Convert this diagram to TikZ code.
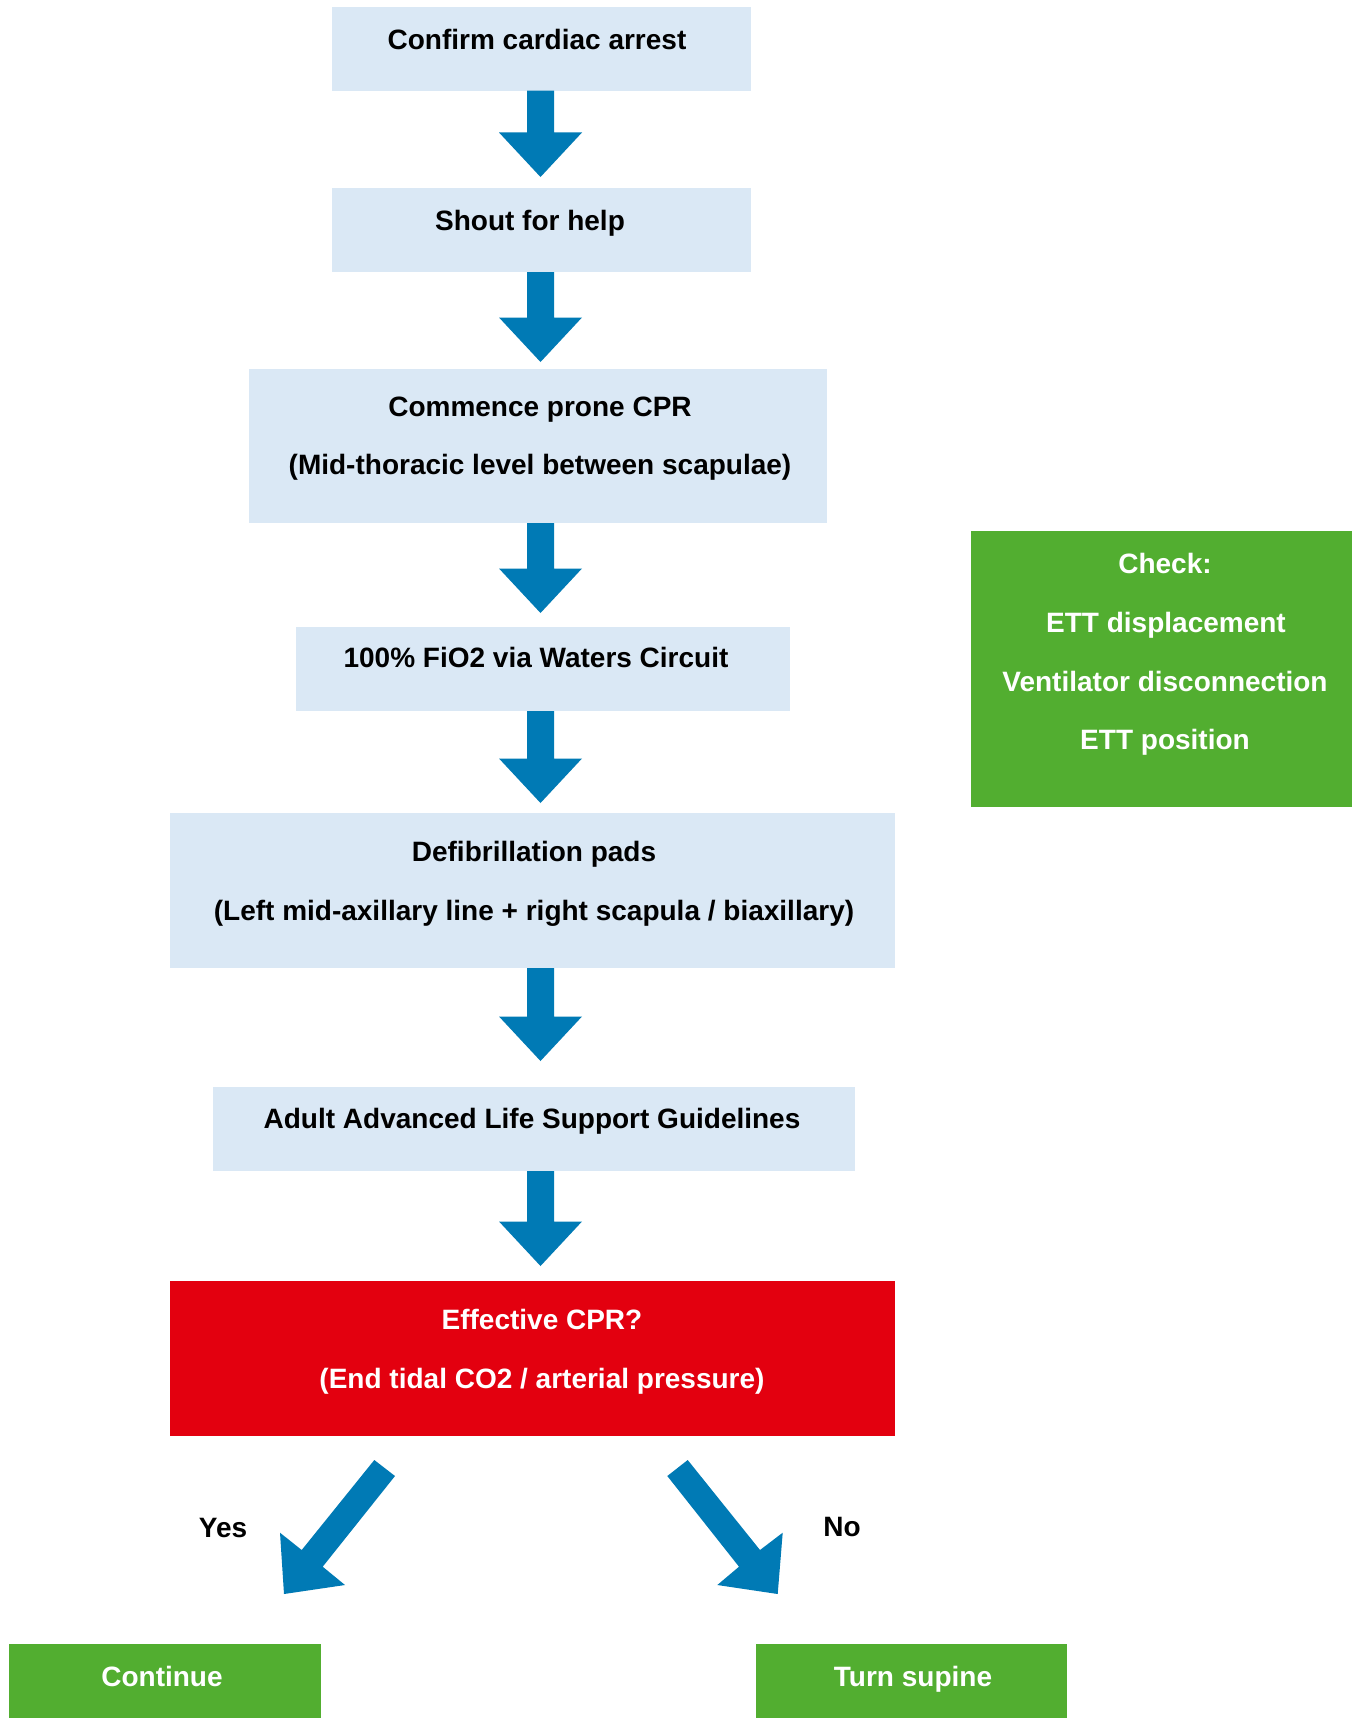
\documentclass[tikz,border=0pt]{standalone}
\usepackage{fontspec}
\setmainfont{Liberation Sans}
\usetikzlibrary{calc}
\definecolor{boxblue}{HTML}{DAE8F5}
\definecolor{arrblue}{HTML}{007AB5}
\definecolor{cprred}{HTML}{E3000F}
\definecolor{grn}{HTML}{52AE30}
\newcommand\blockdown[2]{%
  \fill[arrblue] ($(ax |- #1.south)+(-13.5,0)$) -- ($(ax |- #1.south)+(13.5,0)$)
    -- (554,{#2-44.5}) -- (582,{#2-44.5}) -- (540.5,#2) -- (499,{#2-44.5}) -- (527,{#2-44.5}) -- cycle;}
\begin{document}
\begin{tikzpicture}[x=1pt,y=-1pt,
  box/.style={anchor=north west, inner sep=0pt, outer sep=0pt, draw=none},
  bluebox/.style={box, fill=boxblue},
  redbox/.style={box, fill=cprred},
  greenbox/.style={box, fill=grn},
  txt/.style={anchor=base, inner sep=0pt, font=\fontsize{28}{33}\selectfont\bfseries, text=black},
  wtxt/.style={txt, text=white}]
\useasboundingbox (0,0) rectangle (1359,1718);
\fill[white] (0,0) rectangle (1359,1718);
\coordinate (ax) at (540.5,0);

% blue boxes
\node[bluebox, minimum width=419pt, minimum height=83.7pt] (b1) at (332,7) {};
\node[txt] (t1) at (537,50) {Confirm cardiac arrest};

\node[bluebox, minimum width=419pt, minimum height=84pt] (b2) at (332,188) {};
\node[txt] (t2) at (530,230) {Shout for help};

\node[bluebox, minimum width=578pt, minimum height=154pt] (b3) at (249,369) {};
\node[txt] (t3a) at (540,416) {Commence prone CPR};
\node[txt] (t3b) at (540,474) {(Mid-thoracic level between scapulae)};

\node[bluebox, minimum width=494pt, minimum height=84pt] (b4) at (296,627) {};
\node[txt] (t4) at (536,667) {100\% FiO2 via Waters Circuit};

\node[bluebox, minimum width=725pt, minimum height=155pt] (b5) at (170,813) {};
\node[txt] (t5a) at (534,861) {Defibrillation pads};
\node[txt] (t5b) at (534,920) {(Left mid-axillary line + right scapula / biaxillary)};

\node[bluebox, minimum width=642pt, minimum height=84pt] (b6) at (213,1087) {};
\node[txt] (t6) at (532,1128) {Adult Advanced Life Support Guidelines};

% red decision box
\node[redbox, minimum width=725pt, minimum height=155pt] (r) at (170,1281) {};
\node[wtxt] (tra) at (542,1329) {Effective CPR?};
\node[wtxt] (trb) at (542,1388) {(End tidal CO2 / arterial pressure)};

% green check box
\node[greenbox, minimum width=381pt, minimum height=276pt] (g) at (971,531) {};
\node[wtxt] (tga) at (1165,573) {Check:};
\node[wtxt] (tgb) at (1166,632) {ETT displacement};
\node[wtxt] (tgc) at (1165,691) {Ventilator disconnection};
\node[wtxt] (tgd) at (1165,749) {ETT position};

% outcome boxes
\node[greenbox, minimum width=312pt, minimum height=74pt] (c) at (9,1644) {};
\node[wtxt] (tc) at (162,1686) {Continue};
\node[greenbox, minimum width=311pt, minimum height=74pt] (s) at (756,1644) {};
\node[wtxt] (ts) at (913,1686) {Turn supine};

% vertical block arrows
\blockdown{b1}{177}
\blockdown{b2}{362}
\blockdown{b3}{613}
\blockdown{b4}{803}
\blockdown{b5}{1061}
\blockdown{b6}{1266}

% diagonal block arrows
\fill[arrblue] (374.3,1460) -- (395,1476) -- (322.7,1566.7) -- (345,1585) -- (284,1594) -- (280,1532.7) -- (301.7,1550) -- cycle;
\fill[arrblue] (687.7,1460) -- (667.3,1476) -- (739,1566.7) -- (717.3,1585) -- (777.7,1594) -- (782.7,1532.7) -- (760,1550) -- cycle;

\node[txt] (yes) at (223,1537) {Yes};
\node[txt] (no) at (842,1536) {No};
\end{tikzpicture}
\end{document}
